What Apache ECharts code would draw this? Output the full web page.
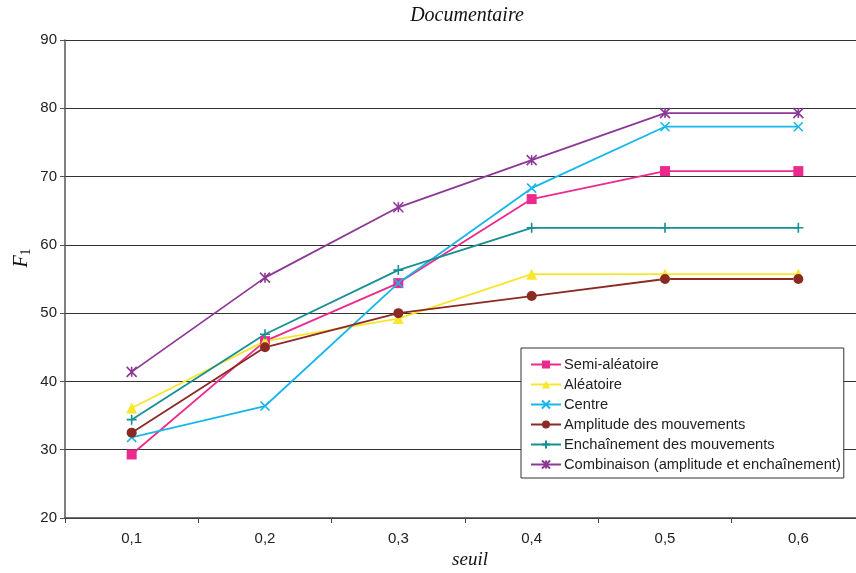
<!DOCTYPE html>
<html>
<head>
<meta charset="utf-8">
<script src="https://cdn.jsdelivr.net/npm/echarts@6/dist/echarts.min.js"></script>
<style>html,body{margin:0;padding:0;background:#fff}#c{width:856px;height:573px}</style>
</head>
<body>
<div id="c"></div>
<script>
var categories = ['0,1', '0,2', '0,3', '0,4', '0,5', '0,6'];
var semiAleatoire = [29.3, 45.9, 54.4, 66.7, 70.8, 70.8];
var aleatoire = [36.1, 45.9, 49.2, 55.7, 55.7, 55.7];
var centre = [31.8, 36.4, 54.4, 68.3, 77.3, 77.3];
var amplitude = [32.5, 45.0, 50.0, 52.5, 55.0, 55.0];
var enchainement = [34.4, 46.9, 56.3, 62.5, 62.5, 62.5];
var combinaison = [41.4, 55.2, 65.5, 72.4, 79.3, 79.3];
var yTicks = [20, 30, 40, 50, 60, 70, 80, 90];

var crossPath = 'path://M0,0L10,10M10,0L0,10';
var plusPath = 'path://M5,0L5,10M0,5L10,5';
var starPath = 'path://M0,0L10,10M10,0L0,10M5,0L5,10';

function mk(name, data, color, symbol, size, stroked) {
  return {
    name: name, type: 'line', data: data,
    symbol: symbol, symbolSize: size,
    lineStyle: { color: color, width: 1.8 },
    itemStyle: stroked ? { color: 'none', borderColor: color, borderWidth: 1.6 } : { color: color },
    emphasis: { disabled: true },
    animation: false, z: 3
  };
}

var chart = echarts.init(document.getElementById('c'));
chart.setOption({
  animation: false,
  backgroundColor: '#fff',
  grid: { left: 65, top: 40, width: 800, bottom: 55, containLabel: false, outerBoundsMode: 'none' },
  xAxis: {
    type: 'category', data: categories, boundaryGap: true,
    axisLine: { lineStyle: { color: '#444', width: 1.5 } },
    axisTick: { show: true, length: 5, interval: 0, lineStyle: { color: '#444' } },
    axisLabel: { color: '#222', fontFamily: 'Liberation Sans, Arial', fontSize: 15, margin: 13 },
    splitLine: { show: false }
  },
  yAxis: {
    type: 'value', min: yTicks[0], max: yTicks[yTicks.length - 1], interval: 10,
    axisLine: { show: true, lineStyle: { color: '#555', width: 1.5 } },
    axisTick: { show: true, length: 5, lineStyle: { color: '#555' } },
    axisLabel: { color: '#222', fontFamily: 'Liberation Sans, Arial', fontSize: 15, margin: 8 },
    splitLine: { show: true, lineStyle: { color: '#333', width: 1 } }
  },
  legend: {
    orient: 'vertical', left: 521, top: 348,
    backgroundColor: '#fff', borderColor: '#333', borderWidth: 1,
    padding: [9, 3, 6, 9], itemGap: 5, itemWidth: 30, itemHeight: 10,
    textStyle: { color: '#222', fontFamily: 'Liberation Sans, Arial', fontSize: 14.7, lineHeight: 14, padding: [0, 0, 0, -2] },
    data: ['Semi-aléatoire', 'Aléatoire', 'Centre', 'Amplitude des mouvements', 'Enchaînement des mouvements', 'Combinaison (amplitude et enchaînement)']
  },
  graphic: [
    { type: 'text', x: 467, y: 16, style: { text: 'Documentaire', font: 'italic 20px "Liberation Serif", "DejaVu Serif", serif', fill: '#111', align: 'center', verticalAlign: 'middle' }, z: 10 },
    { type: 'text', x: 470, y: 560, style: { text: 'seuil', font: 'italic 19px "Liberation Serif", "DejaVu Serif", serif', fill: '#111', align: 'center', verticalAlign: 'middle' }, z: 10 },
    { type: 'text', x: 22, y: 258, rotation: Math.PI / 2, style: { text: '{f|F}{s|1}', rich: { f: { font: 'italic 20px "Liberation Serif", serif', fill: '#111' }, s: { font: '14px "Liberation Serif", serif', fill: '#111', padding: [8, 0, 0, 0] } }, align: 'center', verticalAlign: 'middle' }, z: 10 }
  ],
  series: [
    mk('Semi-aléatoire', semiAleatoire, '#ec2a8e', 'rect', 10, false),
    mk('Aléatoire', aleatoire, '#f7e62c', 'triangle', 11, false),
    mk('Centre', centre, '#17b6ea', crossPath, 9, true),
    mk('Amplitude des mouvements', amplitude, '#8b2a22', 'circle', 10, false),
    mk('Enchaînement des mouvements', enchainement, '#168f95', plusPath, 10, true),
    mk('Combinaison (amplitude et enchaînement)', combinaison, '#8c3996', starPath, 10, true)
  ]
});
</script>
</body>
</html>
